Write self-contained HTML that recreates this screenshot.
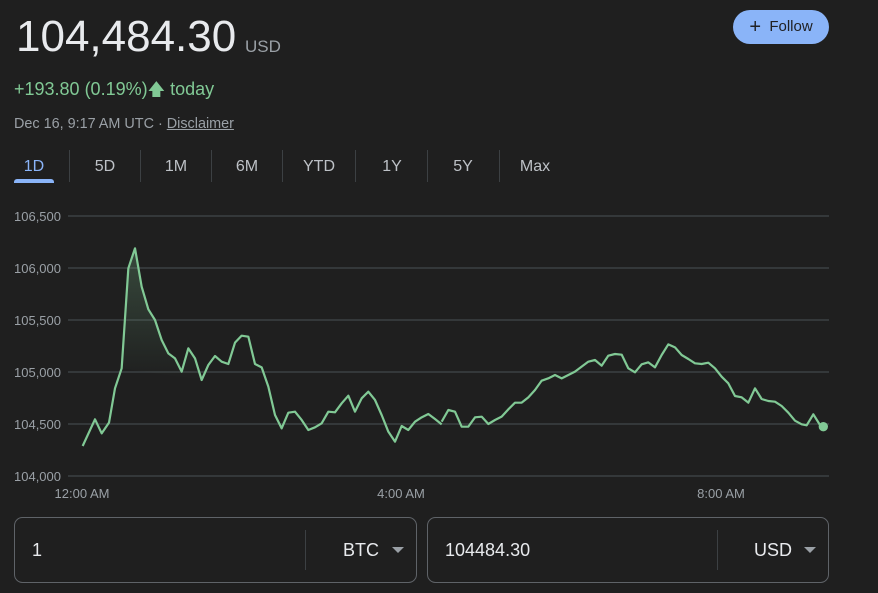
<!DOCTYPE html>
<html><head><meta charset="utf-8"><style>
body{margin:0;width:878px;height:593px;background:#1f1f1f;overflow:hidden;font-family:"Liberation Sans",sans-serif;position:relative}
.a{position:absolute;white-space:nowrap}
</style></head><body>
<div class="a" style="left:16px;top:12px;font-size:44px;color:#e8eaed">104,484.30</div>
<div class="a" style="left:245px;top:37px;font-size:17px;color:#9aa0a6">USD</div>
<div class="a" style="left:14px;top:77px;font-size:18px;color:#81c995">+193.80 (0.19%)<span style="font-size:17px">&#129093;</span> today</div>
<div class="a" style="left:14px;top:116px;font-size:14.4px;color:#9aa0a6">Dec 16, 9:17 AM UTC · <span style="text-decoration:underline">Disclaimer</span></div>
<div class="a" style="left:733px;top:10px;width:96px;height:34px;border-radius:17px;background:#8ab4f8;color:#202124;font-size:15px;line-height:34px;text-align:center"><span style="font-size:20px;vertical-align:-2px">+</span>&nbsp; Follow</div>
<div class="a" style="left:14px;top:158px;width:40px;text-align:center;font-size:16px;color:#8ab4f8">1D</div>
<div class="a" style="left:14px;top:179px;width:40px;height:4px;border-radius:3px 3px 0 0;background:#8ab4f8"></div>
<div class="a" style="left:85px;top:158px;width:40px;text-align:center;font-size:16px;color:#bdc1c6">5D</div>
<div class="a" style="left:156px;top:158px;width:40px;text-align:center;font-size:16px;color:#bdc1c6">1M</div>
<div class="a" style="left:227px;top:158px;width:40px;text-align:center;font-size:16px;color:#bdc1c6">6M</div>
<div class="a" style="left:299px;top:158px;width:40px;text-align:center;font-size:16px;color:#bdc1c6">YTD</div>
<div class="a" style="left:372px;top:158px;width:40px;text-align:center;font-size:16px;color:#bdc1c6">1Y</div>
<div class="a" style="left:443px;top:158px;width:40px;text-align:center;font-size:16px;color:#bdc1c6">5Y</div>
<div class="a" style="left:515px;top:158px;width:40px;text-align:center;font-size:16px;color:#bdc1c6">Max</div>
<svg class="a" style="left:0;top:0" width="878" height="593">
<g stroke="#3c4043" stroke-width="1">
<line x1="69.5" y1="150" x2="69.5" y2="182"/><line x1="140.5" y1="150" x2="140.5" y2="182"/><line x1="211.5" y1="150" x2="211.5" y2="182"/><line x1="282.5" y1="150" x2="282.5" y2="182"/><line x1="355.5" y1="150" x2="355.5" y2="182"/><line x1="427.5" y1="150" x2="427.5" y2="182"/><line x1="499.5" y1="150" x2="499.5" y2="182"/>
</g>
<g stroke="#3c4043" stroke-width="1.5">
<line x1="68" y1="216" x2="829" y2="216"/><line x1="68" y1="268" x2="829" y2="268"/><line x1="68" y1="320" x2="829" y2="320"/><line x1="68" y1="372" x2="829" y2="372"/><line x1="68" y1="424" x2="829" y2="424"/><line x1="68" y1="476" x2="829" y2="476"/>
</g>
<g font-size="13" fill="#9aa0a6" font-family="Liberation Sans,sans-serif">
<text x="14" y="221">106,500</text><text x="14" y="273">106,000</text><text x="14" y="325">105,500</text><text x="14" y="377">105,000</text><text x="14" y="429">104,500</text><text x="14" y="481">104,000</text>
<text x="82" y="498" text-anchor="middle">12:00 AM</text><text x="401" y="498" text-anchor="middle">4:00 AM</text><text x="721" y="498" text-anchor="middle">8:00 AM</text>
</g>
<defs><linearGradient id="g" x1="0" y1="0" x2="0" y2="1"><stop offset="0" stop-color="#81c995" stop-opacity="0.25"/><stop offset="1" stop-color="#81c995" stop-opacity="0"/></linearGradient></defs>
<g transform="translate(60,230) scale(0.33333)">
<polygon fill="url(#g)" points="185,415 205,115 225,55 245,170 265,238 285,270 305,330 325,370 345,385 365,425 385,355 405,385 425,450"/>
<polyline fill="none" stroke="#81c995" stroke-width="2.2" vector-effect="non-scaling-stroke" stroke-linejoin="round" points="68,648 105,568 125,610 147,578 165,475 185,415 205,115 225,55 245,170 265,238 285,270 305,330 325,370 345,385 365,425 385,355 405,385 425,450 445,405 465,378 485,395 505,402 525,338 545,317 565,320 585,402 605,412 625,470 645,555 665,595 685,548 705,545 725,570 745,600 765,592 785,580 805,545 825,547 845,520 865,497 885,545 905,505 925,485 945,510 965,555 985,605 1005,635 1025,588 1045,600 1065,575 1085,562 1105,552 1125,567 1145,583"/>
</g>
<g transform="translate(440,320) scale(0.33333)">
<polyline fill="none" stroke="#81c995" stroke-width="2.2" vector-effect="non-scaling-stroke" stroke-linejoin="round" points="5,305 25,270 45,275 65,320 85,320 105,292 125,290 145,312 165,300 185,290 205,268 225,248 245,248 265,232 285,210 305,182 325,175 345,165 365,175 385,165 405,155 425,140 445,125 465,120 485,137 505,107 525,102 545,104 565,145 585,157 605,133 625,127 645,142 665,105 685,73 705,82 725,105 745,117 765,130 785,132 805,128 825,145 845,170 865,190 885,228 905,232 925,248 945,205 965,237 985,243 1005,245 1025,258 1045,278 1065,302 1085,313 1100,316 1120,283 1140,315 1150,320"/>
<circle cx="1150" cy="320" r="14" fill="#81c995"/>
</g>
<rect x="14.5" y="517.5" width="402" height="65" rx="8" fill="none" stroke="#5f6368"/>
<rect x="427.5" y="517.5" width="401" height="65" rx="8" fill="none" stroke="#5f6368"/>
<line x1="305.5" y1="530" x2="305.5" y2="570" stroke="#3c4043"/>
<line x1="717.5" y1="530" x2="717.5" y2="570" stroke="#3c4043"/>
<polygon points="392,547 404,547 398,553" fill="#9aa0a6"/>
<polygon points="804,547 816,547 810,553" fill="#9aa0a6"/>
<g font-size="18" fill="#e8eaed" font-family="Liberation Sans,sans-serif">
<text x="32" y="556">1</text><text x="343" y="556">BTC</text><text x="445" y="556">104484.30</text><text x="754" y="556">USD</text>
</g>
</svg>
</body></html>
